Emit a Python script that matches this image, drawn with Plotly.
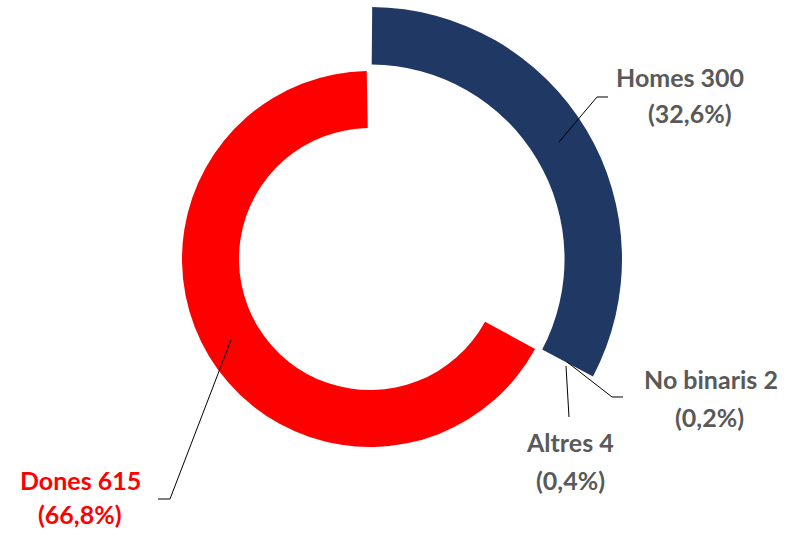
import plotly.graph_objects as go

# ---- data ----
categories = ["Dones", "Homes", "No binaris", "Altres"]
values = [615, 300, 2, 4]
colors = {"Dones": "#FF0000", "Homes": "#203864", "No binaris": "rgba(0,0,0,0)", "Altres": "rgba(0,0,0,0)"}
label_colors = {"Dones": "#FF0000", "Homes": "#595959", "No binaris": "#595959", "Altres": "#595959"}

W, H = 792, 536
total = sum(values)
pct = {c: v / total * 100 for c, v in zip(categories, values)}
val = dict(zip(categories, values))

def fmt_pct(p):
    return "(" + f"{p:.1f}".replace(".", ",") + "%)"

def px(x, y):
    return x / W, 1 - y / H

def domain(cx, cy, r):
    return dict(x=[(cx - r) / W, (cx + r) / W], y=[(H - cy - r) / H, (H - cy + r) / H])

CX, CY = 370, 259
TRANSPARENT = "rgba(0,0,0,0)"

fig = go.Figure()

# Outer ring: Homes (clockwise from 12 o'clock)
order_h = ["Homes", "No binaris", "Altres", "Dones"]
fig.add_trace(go.Pie(
    labels=order_h, values=[val[c] for c in order_h],
    marker=dict(colors=[colors["Homes"], TRANSPARENT, TRANSPARENT, TRANSPARENT], line=dict(width=0)),
    hole=0.772, sort=False, direction="clockwise", rotation=0.5,
    textinfo="none", hoverinfo="label+value+percent", showlegend=False,
    domain=domain(CX, CY, 252),
))

# Inner ring: Dones (ends at 12 o'clock)
order_d = ["Homes", "No binaris", "Altres", "Dones"]
fig.add_trace(go.Pie(
    labels=order_d, values=[val[c] for c in order_d],
    marker=dict(colors=[TRANSPARENT, TRANSPARENT, TRANSPARENT, colors["Dones"]], line=dict(width=0)),
    hole=0.697, sort=False, direction="clockwise", rotation=-1.0,
    textinfo="none", hoverinfo="label+value+percent", showlegend=False,
    domain=domain(CX, CY, 188),
))

# label positions (pixel centres of each text line)
label_pos = {
    "Homes": [(680, 77), (690, 113)],
    "Dones": [(80, 480), (80, 514)],
    "No binaris": [(711, 379), (709, 417)],
    "Altres": [(570, 442), (570, 480)],
}
leaders = {
    "Homes": [(559, 142), (597, 97), (608, 97)],
    "Dones": [(231, 340), (170, 499), (158, 499)],
    "No binaris": [(567, 362), (612, 397), (623, 397)],
    "Altres": [(566, 366), (569, 417)],
}

FONT = "Lato, 'Open Sans', sans-serif"
for c in categories:
    (x1, y1), (x2, y2) = label_pos[c]
    for (x, y), txt in [((x1, y1), f"{c} {val[c]}"), ((x2, y2), fmt_pct(pct[c]))]:
        ax, ay = px(x, y)
        fig.add_annotation(x=ax, y=ay, xref="paper", yref="paper", text=f"<b>{txt}</b>",
                           showarrow=False, xanchor="center", yanchor="middle",
                           font=dict(family=FONT, size=25, color=label_colors[c]))
    pts = [px(x, y) for x, y in leaders[c]]
    path = "M " + " L ".join(f"{a:.5f},{b:.5f}" for a, b in pts)
    fig.add_shape(type="path", path=path, xref="paper", yref="paper",
                  line=dict(color="black", width=1))

fig.update_layout(
    width=W, height=H, margin=dict(l=0, r=0, t=0, b=0),
    paper_bgcolor="white", plot_bgcolor="white",
)
fig.write_html("out.html", config={"displayModeBar": False},
               post_script="document.body.style.margin='0px';")
